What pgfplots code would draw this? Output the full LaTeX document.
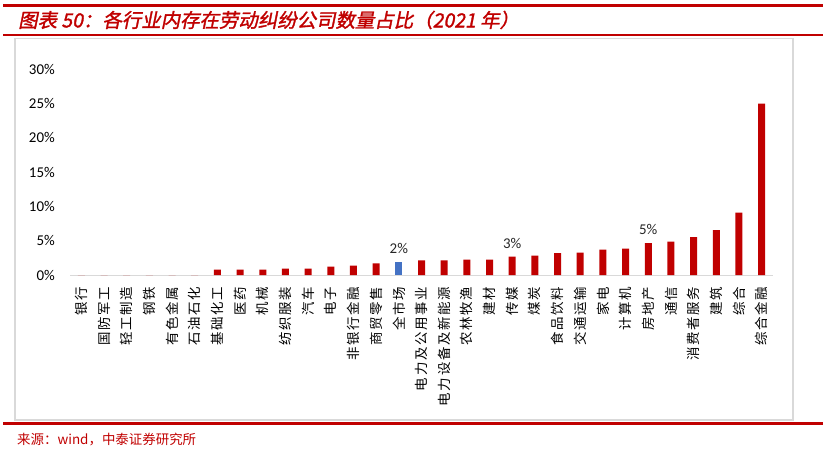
\documentclass[border=0pt]{standalone}
\usepackage{pgfplots}
\pgfplotsset{compat=1.18}
\usepackage{fontspec}
\setmainfont{Carlito}
\newfontfamily\cjk{Noto Sans CJK SC}
\newfontfamily\cjkv{Noto Sans CJK SC}[LetterSpace=12]
\newfontfamily\titlefont{Noto Sans CJK SC}[FakeSlant=0.2, FakeBold=1.5]
\definecolor{zred}{HTML}{C00000}
\definecolor{zblue}{HTML}{4472C4}
\definecolor{framegray}{HTML}{D9D9D9}

\begin{document}
\begin{tikzpicture}
\path[use as bounding box] (0bp,0bp) rectangle (823bp,456bp);
% header and footer rules
\fill[zred] (3bp,449bp) rectangle (823bp,452bp);
\fill[zred] (3bp,419.5bp) rectangle (823bp,421.7bp);
\draw[framegray, line width=1.5bp] (15bp,36bp) rectangle (793bp,417.5bp);
\fill[zred] (3bp,31bp) rectangle (823bp,33.5bp);
\node[anchor=west, text=zred, inner sep=0pt, font=\titlefont\fontsize{19.5}{22}\selectfont]
  at (18bp,436bp) {图表 50：各行业内存在劳动纠纷公司数量占比（2021 年）};
\node[anchor=west, text=zred, inner sep=0pt, font=\cjk\fontsize{13.5}{15}\selectfont]
  at (17bp,16bp) {来源：wind，中泰证券研究所};

\begin{axis}[
    at={(70bp,181bp)}, anchor=south west,
    scale only axis,
    width=703bp, height=206bp,
    xmin=-0.5, xmax=30.5,
    ymin=0, ymax=30,
    clip=false,
    ybar, bar width=7bp,
    axis y line*=left, y axis line style={draw=none},
    axis x line*=bottom, x axis line style={draw=framegray, line width=1bp},
    major tick length=0pt,
    ytick={0,5,10,15,20,25,30},
    yticklabel={\pgfmathprintnumber{\tick}\%},
    yticklabel style={inner sep=0pt, xshift=-15bp, font=\fontsize{15}{18}\selectfont, /pgf/number format/assume math mode=true},
    xtick={0,...,30},
    xticklabels={银行,国防军工,轻工制造,钢铁,有色金属,石油石化,基础化工,医药,机械,纺织服装,汽车,电子,非银行金融,商贸零售,全市场,电力及公用事业,电力设备及新能源,农林牧渔,建材,传媒,煤炭,食品饮料,交通运输,家电,计算机,房地产,通信,消费者服务,建筑,综合,综合金融},
    xticklabel style={inner sep=0pt, yshift=-12bp, rotate=90, anchor=east, font=\cjkv\fontsize{13.5}{15}\selectfont},
    nodes near coords,
    point meta=explicit symbolic,
    every node near coord/.append style={font=\fontsize{15}{18}\selectfont, text=black!85, inner sep=0pt, yshift=8bp},
]
\addplot[bar shift=0pt, draw=none, fill=zred] coordinates {
    (0,0)[] (1,0)[] (2,0)[] (3,0)[] (4,0)[] (5,0)[]
    (6,0.78)[] (7,0.78)[] (8,0.78)[] (9,0.92)[] (10,0.92)[]
    (11,1.21)[] (12,1.36)[] (13,1.70)[]
    (15,2.14)[] (16,2.14)[] (17,2.23)[] (18,2.23)[] (19,2.67)[3\%]
    (20,2.82)[] (21,3.20)[] (22,3.25)[] (23,3.69)[] (24,3.83)[]
    (25,4.66)[5\%] (26,4.85)[] (27,5.53)[] (28,6.55)[] (29,9.08)[]
    (30,24.95)[]
};
\addplot[bar shift=0pt, draw=none, fill=zblue] coordinates {
    (14,1.94)[2\%]
};
\end{axis}
\end{tikzpicture}
\end{document}
